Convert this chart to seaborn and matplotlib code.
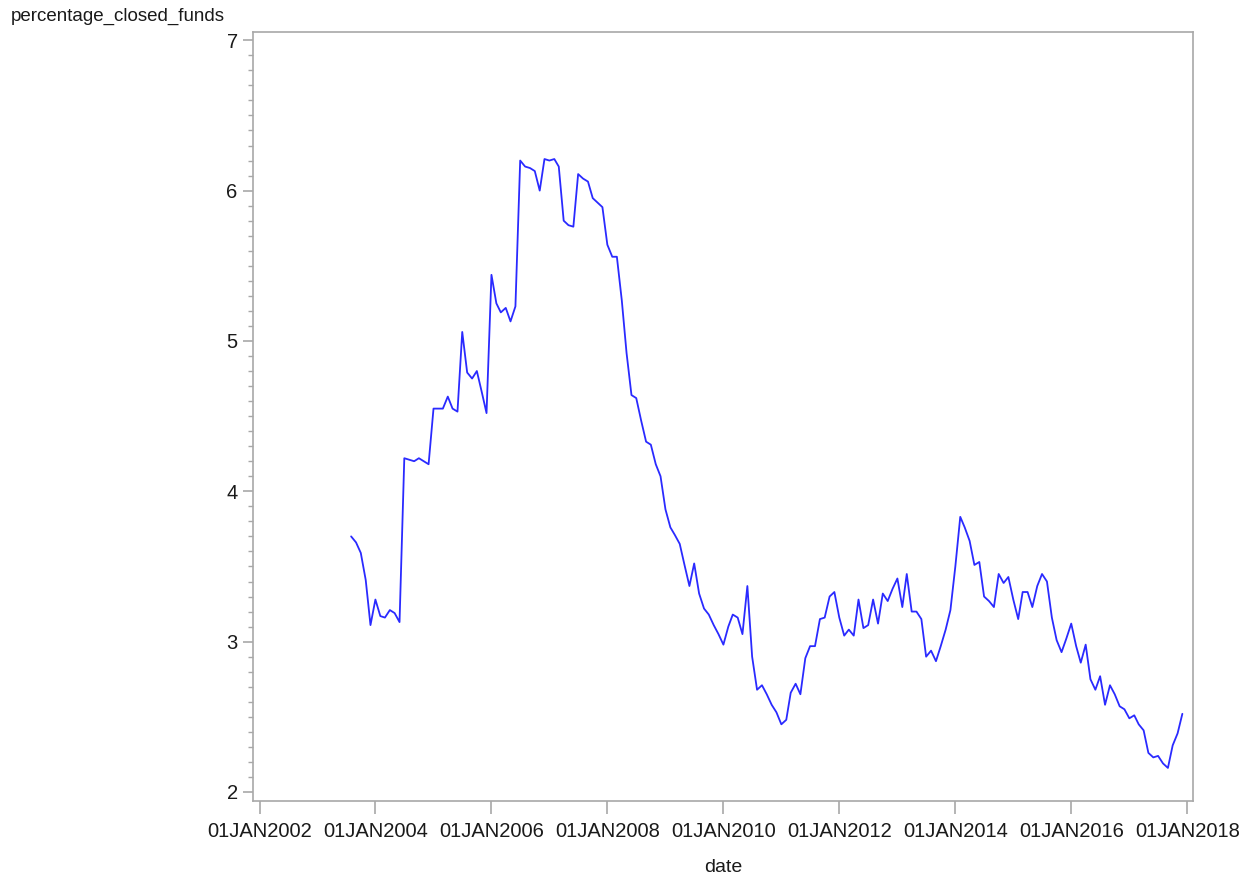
import matplotlib
matplotlib.use("Agg")
import matplotlib.pyplot as plt
import matplotlib.dates as mdates
from matplotlib.ticker import FixedLocator, MultipleLocator, FuncFormatter
import numpy as np
import pandas as pd
import seaborn as sns

# Monthly share of closed funds (%), Aug 2003 - Dec 2017
start_month = "2003-08-01"
end_month = "2017-12-01"
pct_2003 = [3.70, 3.66, 3.59, 3.41, 3.11]
pct_2004 = [3.28, 3.17, 3.16, 3.21, 3.19, 3.13, 4.22, 4.21, 4.20, 4.22, 4.20, 4.18]
pct_2005 = [4.55, 4.55, 4.55, 4.63, 4.55, 4.53, 5.06, 4.79, 4.75, 4.80, 4.66, 4.52]
pct_2006 = [5.44, 5.25, 5.19, 5.22, 5.13, 5.23, 6.20, 6.16, 6.15, 6.13, 6.00, 6.21]
pct_2007 = [6.20, 6.21, 6.16, 5.80, 5.77, 5.76, 6.11, 6.08, 6.06, 5.95, 5.92, 5.89]
pct_2008 = [5.64, 5.56, 5.56, 5.27, 4.92, 4.64, 4.62, 4.47, 4.33, 4.31, 4.18, 4.10]
pct_2009 = [3.88, 3.76, 3.71, 3.65, 3.51, 3.37, 3.52, 3.32, 3.22, 3.18, 3.11, 3.05]
pct_2010 = [2.98, 3.10, 3.18, 3.16, 3.05, 3.37, 2.90, 2.68, 2.71, 2.65, 2.58, 2.53]
pct_2011 = [2.45, 2.48, 2.66, 2.72, 2.65, 2.89, 2.97, 2.97, 3.15, 3.16, 3.30, 3.33]
pct_2012 = [3.16, 3.04, 3.08, 3.04, 3.28, 3.09, 3.11, 3.28, 3.12, 3.32, 3.27, 3.35]
pct_2013 = [3.42, 3.23, 3.45, 3.20, 3.20, 3.15, 2.90, 2.94, 2.87, 2.97, 3.08, 3.21]
pct_2014 = [3.50, 3.83, 3.76, 3.67, 3.51, 3.53, 3.30, 3.27, 3.23, 3.45, 3.39, 3.43]
pct_2015 = [3.28, 3.15, 3.33, 3.33, 3.23, 3.37, 3.45, 3.40, 3.16, 3.01, 2.93, 3.02]
pct_2016 = [3.12, 2.97, 2.86, 2.98, 2.75, 2.68, 2.77, 2.58, 2.71, 2.65, 2.57, 2.55]
pct_2017 = [2.49, 2.51, 2.45, 2.41, 2.26, 2.23, 2.24, 2.19, 2.16, 2.31, 2.39, 2.52]

tick_years = [2002, 2004, 2006, 2008, 2010, 2012, 2014, 2016, 2018]
y_ticks = [2, 3, 4, 5, 6, 7]

values = (pct_2003 + pct_2004 + pct_2005 + pct_2006 + pct_2007 + pct_2008
          + pct_2009 + pct_2010 + pct_2011 + pct_2012 + pct_2013 + pct_2014
          + pct_2015 + pct_2016 + pct_2017)
dates = pd.date_range(start_month, end_month, freq="MS")
df = pd.DataFrame({"date": dates, "percentage_closed_funds": values})

sns.set_style("white")
plt.rcParams["font.family"] = ["Liberation Sans", "DejaVu Sans"]

axis_grey = "#a8a8a8"
text_col = "#1a1a1a"

fig = plt.figure(figsize=(12.49, 8.84), dpi=100)
ax = fig.add_axes([253 / 1249, 1 - 801 / 884, (1193 - 253) / 1249, (801 - 32) / 884])

sns.lineplot(data=df, x="date", y="percentage_closed_funds", ax=ax,
             color="#2a2aff", linewidth=1.3)

ax.set_xlim(pd.Timestamp("2001-11-21"), pd.Timestamp("2018-02-06"))
ax.set_ylim(1.94, 7.055)

ax.xaxis.set_major_locator(FixedLocator(
    [mdates.date2num(pd.Timestamp(f"{y}-01-01")) for y in tick_years]))
ax.xaxis.set_major_formatter(FuncFormatter(
    lambda v, pos: mdates.num2date(v).strftime("%d%b%Y").upper()))
ax.yaxis.set_major_locator(FixedLocator(y_ticks))
ax.yaxis.set_minor_locator(MultipleLocator(0.1))
ax.yaxis.set_major_formatter(FuncFormatter(lambda v, pos: f"{v:g}"))

for s in ax.spines.values():
    s.set_color(axis_grey)
    s.set_linewidth(1.2)

ax.tick_params(axis="both", which="major", direction="out", color=axis_grey,
               width=1.2, labelsize=14.5, labelcolor=text_col)
ax.tick_params(axis="x", which="major", length=9, pad=6, bottom=True)
ax.tick_params(axis="y", which="major", length=7, pad=4, left=True)
ax.tick_params(axis="y", which="minor", direction="out", color=axis_grey,
               width=1.0, length=3.5, left=True)

ax.set_xlabel("")
ax.set_ylabel("")
fig.text(723 / 1249, 1 - 868 / 884, "date", ha="center", va="center",
         fontsize=14, color=text_col)
fig.text(11 / 1249, 1 - 16 / 884, "percentage_closed_funds", ha="left",
         va="center", fontsize=13.5, color=text_col)

fig.savefig("out.png", dpi=100, facecolor="white")
